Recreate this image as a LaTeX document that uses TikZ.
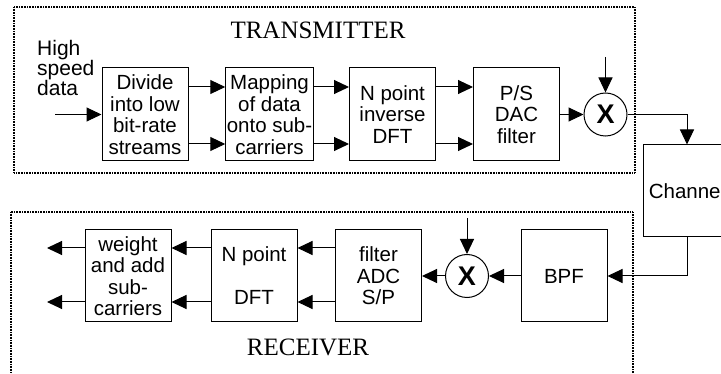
\documentclass[tikz,border=0pt]{standalone}
\usepackage{fontspec}
\setmainfont{Liberation Sans}
\newfontfamily\romanlbl{Liberation Serif}
\usetikzlibrary{arrows.meta,positioning,calc}

\begin{document}
\begin{tikzpicture}[x=1pt,y=-1pt,
  blk/.style={draw,line width=1pt,minimum width=86pt,minimum height=93pt,
              inner sep=1pt,align=center,font=\fontsize{20.5}{21.5}\selectfont},
  mix/.style={draw,circle,line width=1pt,minimum size=43pt,inner sep=0pt,
              font=\fontsize{27}{27}\selectfont\bfseries},
  sig/.style={-{Triangle[length=15pt,width=14pt]},line width=1pt},
  zone/.style={line width=1.2pt,dash pattern=on 1pt off 0.6pt},
  ttl/.style={font=\romanlbl\fontsize{25}{25}\selectfont}
]
\useasboundingbox (0,0) rectangle (721,374);
\clip (0,0) rectangle (721,374);

% dotted frames
\draw[zone] (14,7) rectangle (635,173);
\draw[zone] (11,212) rectangle (633,400);
\node[ttl] (txlbl) at (318,30) {TRANSMITTER};
\node[ttl] (rxlbl) at (308,347) {RECEIVER};

% transmitter chain
\node[font=\fontsize{21}{20}\selectfont,align=left,anchor=west,inner sep=0pt]
  (hsd) at (37,68) {High\\speed\\data};
\node[blk] (div)  at (145,114.5)   {Divide\\into low\\bit-rate\\streams};
\node[blk] (map)  at (269.5,114.5) {Mapping\\of data\\onto sub-\\carriers};
\node[blk] (idft) at (392.5,114.5) {N point\\inverse\\DFT};
\node[blk] (ps)   at (516.5,114.5) {P/S\\DAC\\filter};
\node[mix] (mixT) at (605.5,114.5) {X};
\node[blk,minimum width=88pt,minimum height=92pt] (chan) at (687,191) {Channel};

% receiver chain
\node[blk,minimum height=92pt] (bpf)  at (564,276)   {BPF};
\node[mix]                     (mixR) at (467,276)   {X};
\node[blk,minimum height=92pt] (adc)  at (378.5,276) {filter\\ADC\\S/P};
\node[blk,minimum height=92pt] (dft)  at (254,276)   {N point\\[21.5pt]DFT};
\node[blk,minimum height=92pt] (wadd) at (128,276)   {weight\\and add\\sub-\\carriers};

\coordinate (in)   at (55,114.5);
\coordinate (loT)  at (605.5,57);
\coordinate (loR)  at (467,218);
\coordinate (outA) at (47,248);
\coordinate (outB) at (47,302);

\draw[sig] (in) -- (div);
\foreach \a/\b in {div/map,map/idft,idft/ps}
  \foreach \dy in {27.5pt,-29.5pt}
    \draw[sig] ([yshift=\dy]\a.east) -- ([yshift=\dy]\b.west);
\draw[sig] (ps) -- (mixT);
\draw[sig] (loT) -- (mixT);
\draw[sig] (mixT) -| (chan);
\draw[sig] (chan) |- (bpf);
\draw[sig] (bpf) -- (mixR);
\draw[sig] (loR) -- (mixR);
\draw[sig] (mixR) -- (adc);
\foreach \a/\b in {adc/dft,dft/wadd}
  \foreach \dy in {28pt,-26pt}
    \draw[sig] ([yshift=\dy]\a.west) -- ([yshift=\dy]\b.east);
\draw[sig] ([yshift=28pt]wadd.west) -- (outA);
\draw[sig] ([yshift=-26pt]wadd.west) -- (outB);
\end{tikzpicture}
\end{document}
